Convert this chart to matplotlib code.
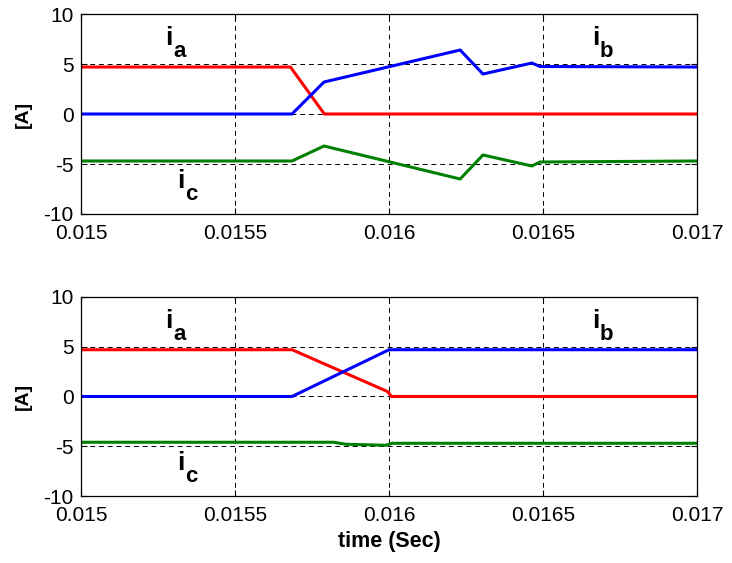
import matplotlib
matplotlib.use("Agg")
import matplotlib.pyplot as plt

plt.rcParams['font.family'] = ['Liberation Sans', 'DejaVu Sans']
plt.rcParams['axes.unicode_minus'] = False

# ---- data: top panel ----
t_top_a = [0.015, 0.01568, 0.01579, 0.017]
ia_top = [4.7, 4.7, 0.0, 0.0]
t_top_bc = [0.015, 0.015685, 0.015789, 0.016231, 0.016305, 0.016464, 0.01649, 0.017]
ib_top = [0.0, 0.0, 3.2, 6.4, 4.0, 5.1, 4.75, 4.7]
ic_top = [-4.7, -4.7, -3.2, -6.5, -4.1, -5.2, -4.8, -4.7]

# ---- data: bottom panel ----
t_bot_a = [0.015, 0.015685, 0.015995, 0.016008, 0.017]
ia_bot = [4.7, 4.7, 0.5, 0.0, 0.0]
t_bot_b = [0.015, 0.015685, 0.016, 0.017]
ib_bot = [0.0, 0.0, 4.7, 4.7]
t_bot_c = [0.015, 0.01582, 0.01586, 0.01599, 0.01601, 0.017]
ic_bot = [-4.6, -4.6, -4.8, -4.9, -4.7, -4.7]

xticks = [0.015, 0.0155, 0.016, 0.0165, 0.017]
xticklabels = ['0.015', '0.0155', '0.016', '0.0165', '0.017']
yticks = [-10, -5, 0, 5, 10]

# labels: (main letter, subscript, x, y)
phase_labels = [('i', 'a', 0.015286, 6.9), ('i', 'b', 0.016672, 6.9), ('i', 'c', 0.015325, -7.4)]

fig = plt.figure(figsize=(7.32, 5.63), dpi=100)
ax1 = fig.add_axes([0.1107, 0.6199, 0.8415, 0.3552])
ax2 = fig.add_axes([0.1107, 0.1190, 0.8415, 0.3535])

lw = 2.2
ax1.plot(t_top_a, ia_top, color='#ff0000', lw=lw)
ax1.plot(t_top_bc, ib_top, color='#0000ff', lw=lw)
ax1.plot(t_top_bc, ic_top, color='#008000', lw=lw)

ax2.plot(t_bot_a, ia_bot, color='#ff0000', lw=lw)
ax2.plot(t_bot_b, ib_bot, color='#0000ff', lw=lw)
ax2.plot(t_bot_c, ic_bot, color='#008000', lw=lw)

for ax in (ax1, ax2):
    ax.set_xlim(0.015, 0.017)
    ax.set_ylim(-10, 10)
    ax.set_xticks(xticks)
    ax.set_xticklabels(xticklabels)
    ax.set_yticks(yticks)
    ax.tick_params(direction='in', top=True, right=True, labelsize=15, length=4)
    ax.tick_params(axis='x', pad=7)
    ax.tick_params(axis='y', pad=5.5)
    ax.grid(True, color='black', linestyle=(0, (5, 4)), linewidth=0.7)
    for s in ax.spines.values():
        s.set_linewidth(0.9)
    ax.set_ylabel('[A]', fontsize=14, fontweight='bold')
    ax.yaxis.set_label_coords(-0.08, 0.5)
    for main, sub, x, y in phase_labels:
        ax.text(x, y, main, fontsize=19, fontweight='bold', ha='center', va='baseline')
        ax.annotate(sub, xy=(x, y), xytext=(7.5, -8.5), textcoords='offset points',
                    fontsize=16, fontweight='bold', ha='center', va='baseline')

ax2.set_xlabel('time (Sec)', fontsize=15.5, fontweight='bold')
ax2.xaxis.set_label_coords(0.5, -0.175)

fig.savefig('out.png', dpi=100)
